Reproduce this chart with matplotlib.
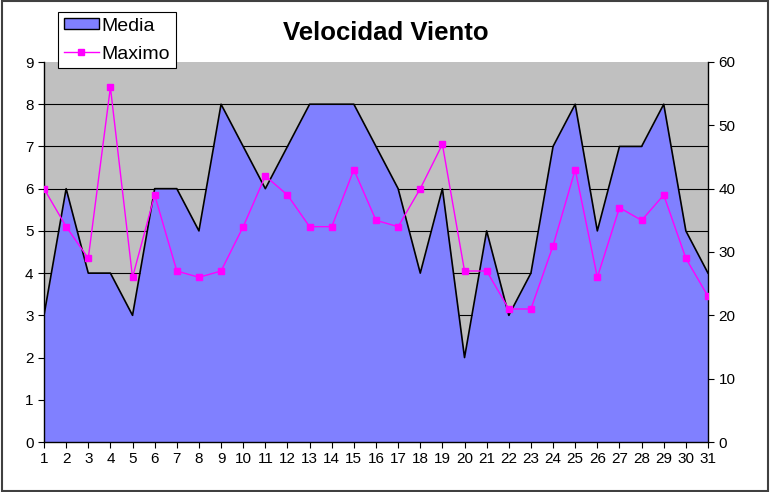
import matplotlib
matplotlib.use("Agg")
import matplotlib.pyplot as plt
from matplotlib.patches import Rectangle, Patch
from matplotlib.lines import Line2D

plt.rcParams['font.family'] = ['Liberation Sans', 'DejaVu Sans']

days = list(range(1, 32))
media = [3, 6, 4, 4, 3, 6, 6, 5, 8, 7, 6, 7, 8, 8, 8, 7, 6, 4, 6, 2, 5, 3, 4, 7, 8, 5, 7, 7, 8, 5, 4]
maximo = [40, 34, 29, 56, 26, 39, 27, 26, 27, 34, 42, 39, 34, 34, 43, 35, 34, 40, 47, 27, 27, 21, 21, 31, 43, 26, 37, 35, 39, 29, 23]
title = "Velocidad Viento"

fig = plt.figure(figsize=(7.7, 4.92), dpi=100)
fig.patch.set_facecolor('white')
fig.patches.append(Rectangle((0.002, 0.002), 0.996, 0.996, transform=fig.transFigure,
                             fill=False, edgecolor='#404040', linewidth=1.5))

ax = fig.add_axes([44/770, 50/492, 664/770, 380/492])
ax.set_facecolor('#c0c0c0')
ax.set_xlim(1, 31)
ax.set_ylim(0, 9)
ax.set_yticks(range(0, 10))
ax.set_xticks(days)
for y in range(1, 9):
    ax.axhline(y, color='black', linewidth=0.8, zorder=1)
ax.fill_between(days, media, 0, color='#8080ff', zorder=2, linewidth=0)
ax.plot(days, media, color='black', linewidth=1.2, zorder=3)

ax2 = ax.twinx()
ax2.set_ylim(0, 60)
ax2.set_yticks(range(0, 70, 10))
ax2.plot(days, maximo, color='#ff00ff', linewidth=1, marker='s', markersize=5,
         markerfacecolor='#ff00ff', markeredgecolor='#ff00ff', zorder=4)

for a in (ax, ax2):
    for s in a.spines.values():
        s.set_visible(False)
    a.tick_params(labelsize=11, colors='black', direction='out', length=4, width=0.8)
ax.spines['left'].set_visible(True)
ax.spines['bottom'].set_visible(True)
ax2.spines['right'].set_visible(True)
for s in (ax.spines['left'], ax.spines['bottom'], ax2.spines['right']):
    s.set_color('black'); s.set_linewidth(1)
ax.tick_params(axis='x', pad=3)

fig.text(386/770, 1 - 33/492, title, ha='center', va='center', fontsize=18.5, fontweight='bold')

handles = [Patch(facecolor='#8080ff', edgecolor='black', linewidth=1),
           Line2D([0], [0], color='#ff00ff', marker='s', markersize=5, linewidth=1)]
leg = fig.legend(handles, ['Media', 'Maximo'], loc='upper left',
                 bbox_to_anchor=(58/770, 1 - 12/492), fontsize=14, frameon=True,
                 fancybox=False, edgecolor='black', framealpha=1, borderpad=0.3,
                 handlelength=1.8, handleheight=0.5, handletextpad=0.15,
                 labelspacing=0.55, borderaxespad=0)
leg.get_frame().set_linewidth(0.8)
leg.set_zorder(10)

fig.savefig('out.png', dpi=100)
